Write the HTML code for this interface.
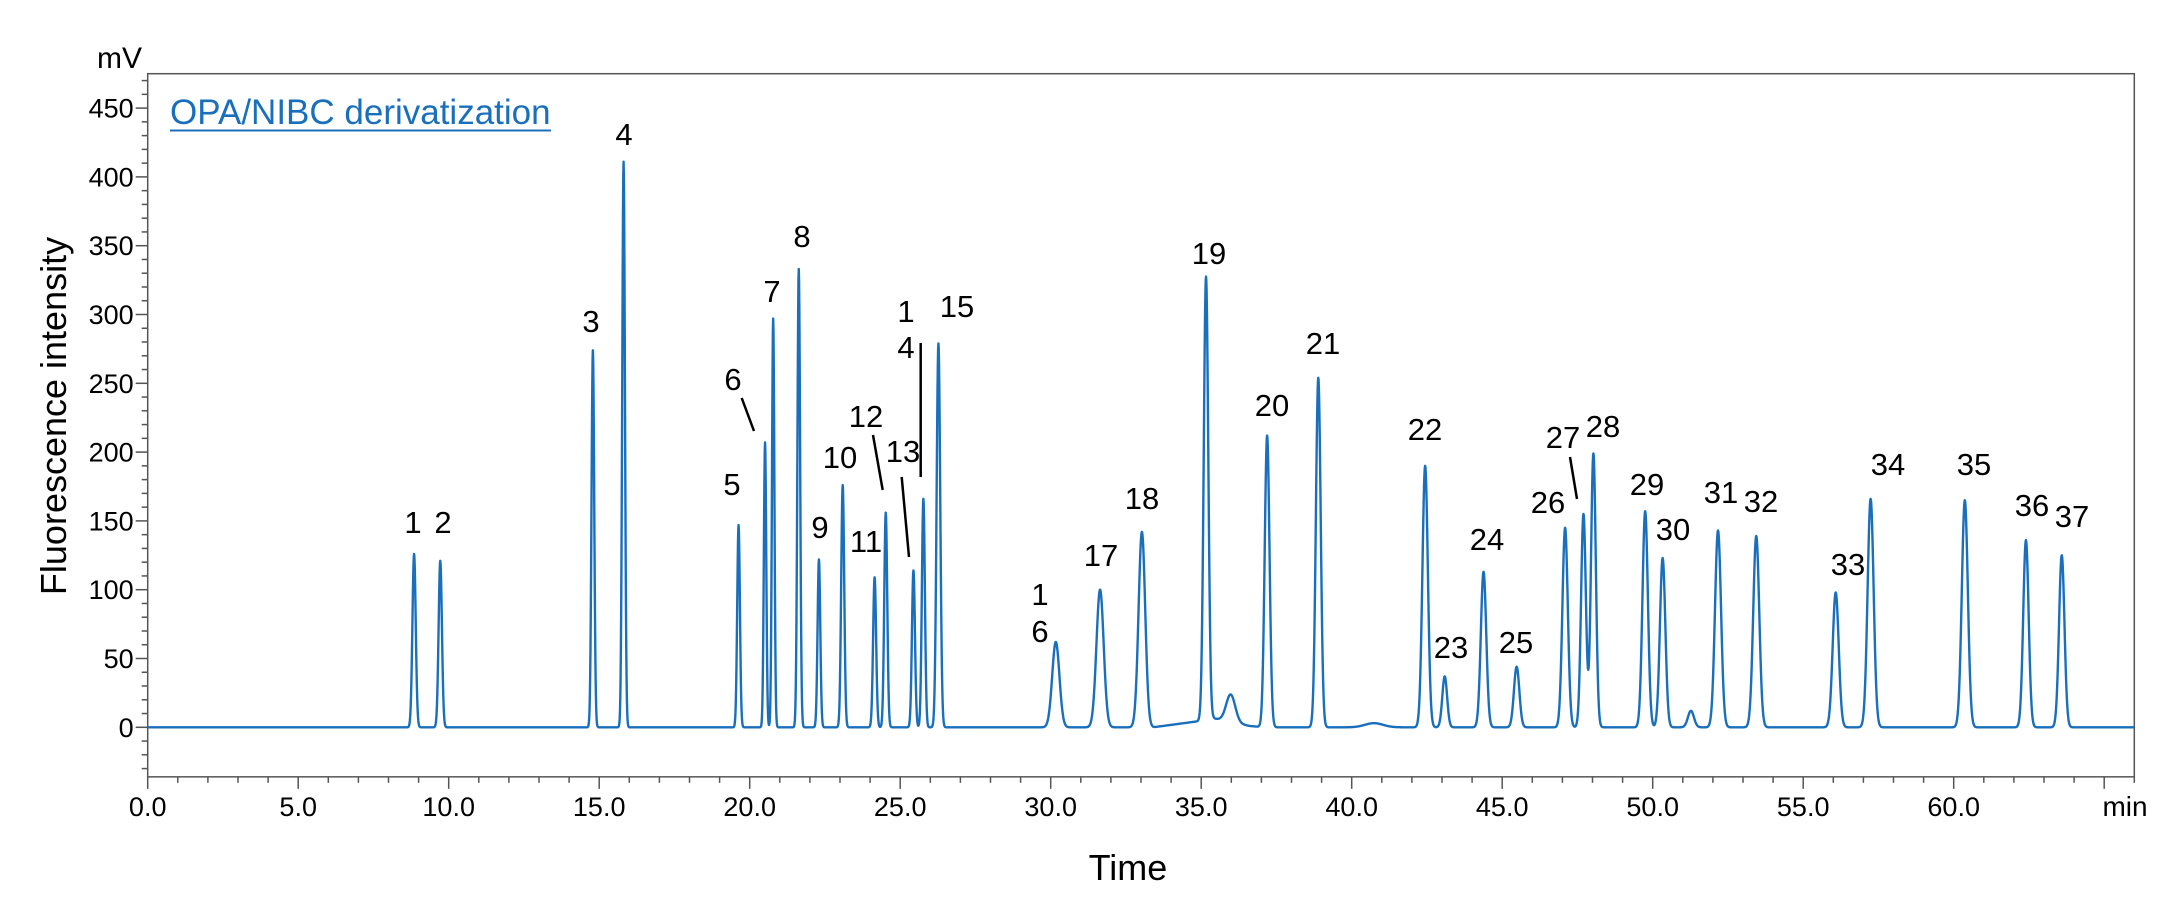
<!DOCTYPE html>
<html><head><meta charset="utf-8"><style>
html,body{margin:0;padding:0;background:#fff;}
svg{display:block;font-family:"Liberation Sans",Arial,sans-serif;}
</style></head><body>
<svg id="chart" width="2174" height="916" viewBox="0 0 2174 916" xmlns="http://www.w3.org/2000/svg">
<rect x="0" y="0" width="2174" height="916" fill="#fff"/>
<g id="axes"></g>
<g id="trace"></g>
<g id="labels"></g>
<text x="170" y="124" font-size="35" fill="#1a6fbd">OPA/NIBC derivatization</text>
<line x1="170" y1="130.5" x2="551" y2="130.5" stroke="#1a6fbd" stroke-width="2"/>
<text x="142" y="68" font-size="30" text-anchor="end">mV</text>
<text x="0" y="0" font-size="36" text-anchor="middle" transform="translate(66,416) rotate(-90)">Fluorescence intensity</text>
<text x="1128" y="880" font-size="36" text-anchor="middle">Time</text>
<text x="2125" y="816" font-size="28" text-anchor="middle">min</text>
</svg>
<script>
// chart data
const peakTimes = [8.85,9.72,14.79,15.81,19.63,20.51,20.78,21.63,22.30,23.09,24.15,24.52,25.44,25.77,26.27,30.17,31.64,33.03,35.16,35.98,37.19,38.89,40.74,42.44,43.09,44.38,45.48,47.09,47.70,48.03,49.75,50.33,51.27,52.17,53.44,56.08,57.24,60.37,62.40,63.59];
const peakHeights = [126,121,274,411,147,207,297,333,122,176,109,156,114,166,279,62,100,142,322,20,212,254,3,190,37,113,44,145,155,199,157,123,12,143,139,98,166,165,136,125];
const peakWidths = [0.055,0.055,0.045,0.045,0.045,0.04,0.04,0.045,0.045,0.05,0.05,0.05,0.05,0.05,0.06,0.12,0.12,0.11,0.075,0.15,0.08,0.08,0.3,0.09,0.08,0.09,0.09,0.09,0.08,0.08,0.09,0.09,0.1,0.1,0.1,0.1,0.1,0.1,0.09,0.09];
const driftTimes = [0,33.4,35.1,35.3,36.6,37.1,66];
const driftValues = [0,0,5,7,1,0,0];
const xTicks = [0,5,10,15,20,25,30,35,40,45,50,55,60];
const xTickLabels = ["0.0","5.0","10.0","15.0","20.0","25.0","30.0","35.0","40.0","45.0","50.0","55.0","60.0"];
const yTicks = [0,50,100,150,200,250,300,350,400,450];
const yTickLabels = ["0","50","100","150","200","250","300","350","400","450"];
const peakLabelText = ["1","2","3","4","5","6","7","8","9","10","11","12","13","1","4","15","1","6","17","18","19","20","21","22","23","24","25","26","27","28","29","30","31","32","33","34","35","36","37"];
const peakLabelX = [413,443,591,624,732,733,772,802,820,840,866,866,903,906,906,957,1040,1040,1101,1142,1209,1272,1323,1425,1451,1487,1516,1548,1563,1603,1647,1673,1721,1761,1848,1888,1974,2032,2072];
const peakLabelY = [523,523,322,135,485,380,292,237,528,458,542,417,452,312,348,307,595,632,556,499,254,406,344,430,648,540,643,503,438,427,485,530,493,502,565,465,465,506,517];

const X0=147.7, PXM=30.1, Y0=727.3, PYU=1.376;
const TMIN=0, TMAX=66, VMIN=-36, VMAX=475;
function xs(t){return X0+(t-TMIN)*PXM;}
function ys(v){return Y0-v*PYU;}
const NS='http://www.w3.org/2000/svg';
function mk(tag,parent){const e=document.createElementNS(NS,tag);parent.appendChild(e);return e;}

const axes=document.getElementById('axes');
const L=xs(TMIN),R=xs(TMAX),T=ys(VMAX),B=ys(VMIN);
const frame=mk('rect',axes);


frame.setAttribute('x',L);frame.setAttribute('y',T);frame.setAttribute('width',R-L);frame.setAttribute('height',B-T);
frame.setAttribute('fill','none');frame.setAttribute('stroke','#555');frame.setAttribute('stroke-width','1.5');

for(let v=-30;v<=470;v+=10){
  const major=(v%50===0);
  const tk=mk('line',axes);
  
  
  tk.setAttribute('x1',L);tk.setAttribute('x2',L-(major?12:6));
  tk.setAttribute('y1',ys(v));tk.setAttribute('y2',ys(v));
  tk.setAttribute('stroke','#555');tk.setAttribute('stroke-width','1.5');
}
yTicks.forEach((v,i)=>{
  const t=mk('text',axes);
  
  
  t.setAttribute('x',L-14);t.setAttribute('y',ys(v)+9.5);
  t.setAttribute('font-size','27');t.setAttribute('text-anchor','end');
  t.textContent=yTickLabels[i];
});
for(let m=0;m<=66;m+=1){
  const major=(m%5===0);
  const tk=mk('line',axes);
  
  
  tk.setAttribute('x1',xs(m));tk.setAttribute('x2',xs(m));
  tk.setAttribute('y1',B);tk.setAttribute('y2',B+(major?12:6));
  tk.setAttribute('stroke','#555');tk.setAttribute('stroke-width','1.5');
}
xTicks.forEach((m,i)=>{
  const t=mk('text',axes);
  
  
  t.setAttribute('x',xs(m));t.setAttribute('y',816);
  t.setAttribute('font-size','27');t.setAttribute('text-anchor','middle');
  t.textContent=xTickLabels[i];
});

function drift(t){
  for(let i=0;i<driftTimes.length-1;i++){
    if(t>=driftTimes[i]&&t<=driftTimes[i+1]){
      const f=(t-driftTimes[i])/(driftTimes[i+1]-driftTimes[i]);
      return driftValues[i]+f*(driftValues[i+1]-driftValues[i]);
    }
  }
  return 0;
}
let d='';
for(let t=TMIN;t<=TMAX+1e-9;t+=0.01){
  let v=drift(t);
  for(let k=0;k<peakTimes.length;k++){
    const z=(t-peakTimes[k])/peakWidths[k];
    if(Math.abs(z)<8) v+=peakHeights[k]*Math.exp(-0.5*z*z);
  }
  d+=(d?'L':'M')+xs(t).toFixed(2)+','+ys(v).toFixed(2);
}
const tr=mk('path',document.getElementById('trace'));


tr.setAttribute('d',d);tr.setAttribute('fill','none');
tr.setAttribute('stroke','#1a6fbd');tr.setAttribute('stroke-width','2.4');tr.setAttribute('stroke-linejoin','round');

const lg=document.getElementById('labels');
peakLabelText.forEach((s,i)=>{
  const t=mk('text',lg);
  
  
  t.setAttribute('x',peakLabelX[i]);t.setAttribute('y',peakLabelY[i]+10);
  t.setAttribute('font-size','31');t.setAttribute('text-anchor','middle');
  t.textContent=s;
});
const leaders=[[741.7,398,754,431],[873,435,882.7,490],[901.7,477,909,557],[920.7,343,920.7,477],[1570,457,1577,499]];
leaders.forEach(p=>{
  const l=mk('line',lg);
  
  
  l.setAttribute('x1',p[0]);l.setAttribute('y1',p[1]);l.setAttribute('x2',p[2]);l.setAttribute('y2',p[3]);
  l.setAttribute('stroke','#000');l.setAttribute('stroke-width','2.5');
});
</script>
</body></html>
